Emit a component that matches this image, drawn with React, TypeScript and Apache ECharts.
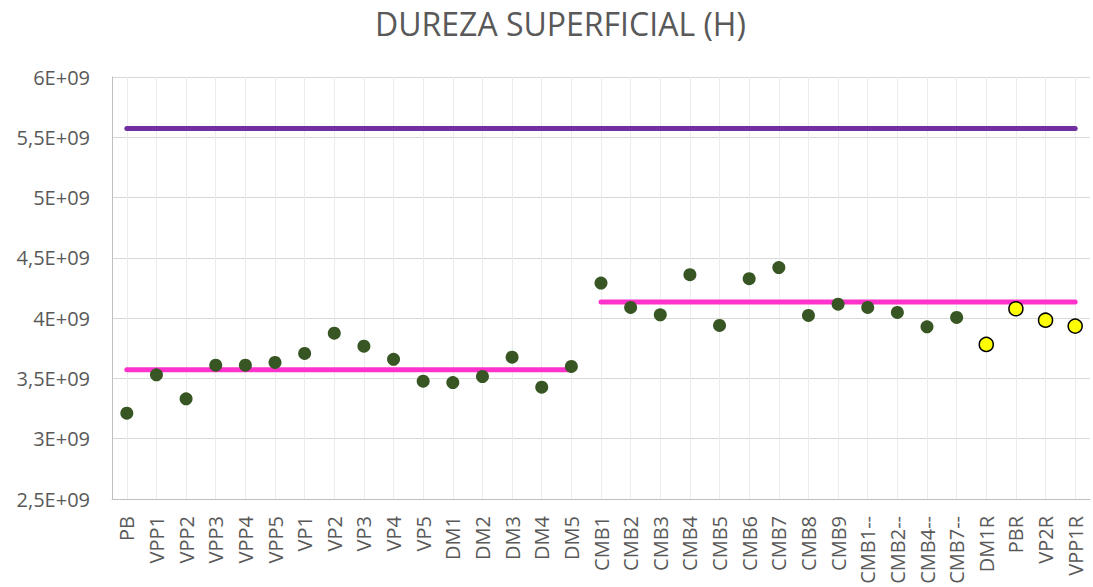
import React, { useEffect, useRef } from "react";
import * as echarts from "echarts";

const categories = [
  "PB", "VPP1", "VPP2", "VPP3", "VPP4", "VPP5", "VP1", "VP2", "VP3", "VP4", "VP5",
  "DM1", "DM2", "DM3", "DM4", "DM5",
  "CMB1", "CMB2", "CMB3", "CMB4", "CMB5", "CMB6", "CMB7", "CMB8", "CMB9",
  "CMB1--", "CMB2--", "CMB4--", "CMB7--",
  "DM1R", "PBR", "VP2R", "VPP1R",
];

// green points (original samples)
const greenValues: (number | null)[] = [
  3.212e9, 3.53e9, 3.331e9, 3.61e9, 3.61e9, 3.633e9, 3.707e9, 3.875e9, 3.767e9, 3.659e9, 3.477e9,
  3.466e9, 3.516e9, 3.676e9, 3.427e9, 3.599e9,
  4.291e9, 4.089e9, 4.028e9, 4.36e9, 3.94e9, 4.327e9, 4.419e9, 4.022e9, 4.116e9,
  4.089e9, 4.047e9, 3.928e9, 4.006e9,
  null, null, null, null,
];

// yellow points (R samples)
const yellowCategories = ["DM1R", "PBR", "VP2R", "VPP1R"];
const yellowValues = [3.782e9, 4.078e9, 3.983e9, 3.934e9];

// reference lines
const purpleLine = { from: "PB", to: "VPP1R", value: 5.572e9 };
const pinkLineA = { from: "PB", to: "DM5", value: 3.573e9 };
const pinkLineB = { from: "CMB1", to: "VPP1R", value: 4.133e9 };

const yTicks = { min: 2.5e9, max: 6e9, interval: 0.5e9 };

const FONT = "'Open Sans', sans-serif";
const TEXT = "#595959";

export default function App() {
  const ref = useRef<HTMLDivElement>(null);
  useEffect(() => {
    if (!ref.current) return;
    const chart = echarts.init(ref.current, null, { renderer: "svg" });
    const segment = (l: { from: string; to: string; value: number }, color: string, name: string) => ({
      type: "line",
      name,
      data: [
        [l.from, l.value],
        [l.to, l.value],
      ],
      symbol: "none",
      lineStyle: { color, width: 5, cap: "round" },
      z: 2,
    });
    chart.setOption({
      animation: false,
      title: {
        text: "DUREZA SUPERFICIAL (H)",
        left: 370,
        top: 2,
        textStyle: { fontFamily: FONT, fontSize: 32, fontWeight: "normal", color: TEXT },
      },
      grid: { left: 112, right: 3, top: 77, bottom: 88, containLabel: false },
      xAxis: {
        type: "category",
        data: categories,
        boundaryGap: true,
        axisLine: { show: true, lineStyle: { color: "#bfbfbf", width: 1 } },
        axisTick: { show: false },
        splitLine: { show: true, alignWithLabel: true, lineStyle: { color: "#ececec", width: 1 } },
        axisLabel: {
          rotate: 90,
          interval: 0,
          margin: 17,
          fontFamily: FONT,
          fontSize: 20,
          color: TEXT,
        },
      },
      yAxis: {
        type: "value",
        min: yTicks.min,
        max: yTicks.max,
        interval: yTicks.interval,
        axisLine: { show: true, lineStyle: { color: "#bfbfbf", width: 1 } },
        axisTick: { show: false },
        splitLine: { show: true, lineStyle: { color: "#d9d9d9", width: 1 } },
        axisLabel: {
          margin: 22,
          fontFamily: FONT,
          fontSize: 20,
          color: TEXT,
          formatter: (v: number) => String(Math.round((v / 1e9) * 10) / 10).replace(".", ",") + "E+09",
        },
      },
      series: [
        segment(purpleLine, "#7030a0", "purple"),
        segment(pinkLineA, "#ff33cc", "pinkA"),
        segment(pinkLineB, "#ff33cc", "pinkB"),
        {
          type: "scatter",
          name: "green",
          data: greenValues,
          symbol: "circle",
          symbolSize: 13,
          itemStyle: { color: "#375623", opacity: 1 },
          z: 3,
        },
        {
          type: "scatter",
          name: "yellow",
          data: yellowCategories.map((c, i) => [c, yellowValues[i]]),
          symbol: "circle",
          symbolSize: 14,
          itemStyle: { color: "#ffff00", borderColor: "#000000", borderWidth: 1.5, opacity: 1 },
          z: 3,
        },
      ],
    });
    return () => chart.dispose();
  }, []);
  return <div ref={ref} style={{ width: 1093, height: 587, position: "absolute", left: 0, top: 0 }} />;
}
